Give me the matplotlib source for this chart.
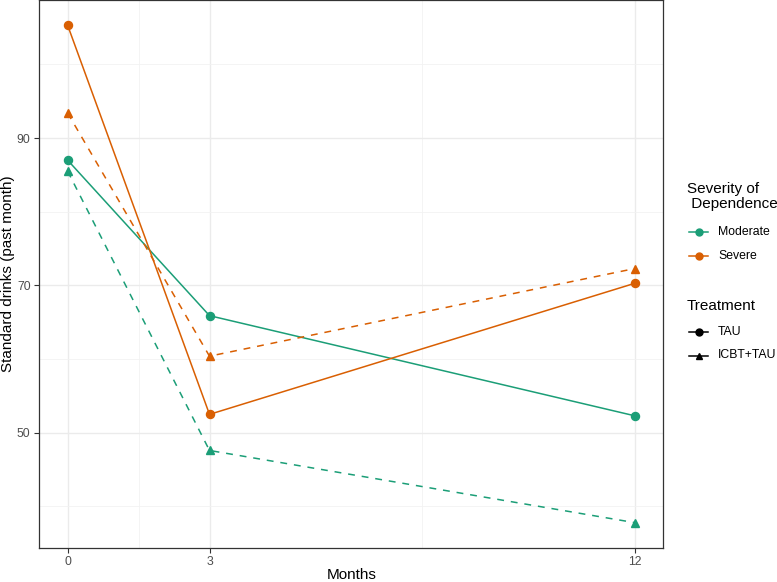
import matplotlib.pyplot as plt
from matplotlib.lines import Line2D

plt.rcParams['font.family'] = ['Liberation Sans', 'DejaVu Sans']

# data
months = [0, 3, 12]
moderate_tau = [87.0, 65.9, 52.3]
moderate_icbt = [85.5, 47.6, 37.8]
severe_tau = [105.3, 52.5, 70.3]
severe_icbt = [93.4, 60.4, 72.3]

green = '#1B9E77'
orange = '#D95F02'

fig = plt.figure(figsize=(7.77, 5.82), dpi=100)
ax = fig.add_axes([0.0506, 0.0589, 0.8031, 0.9405])

lw = 1.1
ms_c = 5.8
ms_t = 6.0
ax.plot(months, moderate_tau, color=green, lw=lw, marker='o', ms=ms_c, zorder=3)
ax.plot(months, severe_tau, color=orange, lw=lw, marker='o', ms=ms_c, zorder=3)
ax.plot(months, moderate_icbt, color=green, lw=lw, marker='^', ms=ms_t, dashes=(4.5, 4.5), zorder=3)
ax.plot(months, severe_icbt, color=orange, lw=lw, marker='^', ms=ms_t, dashes=(4.5, 4.5), zorder=3)

# axes formatting, ggplot theme_bw look
ax.set_xlim(-0.6, 12.6)
ax.set_ylim(34.4, 108.7)
ax.set_xticks([0, 3, 12])
ax.set_yticks([50, 70, 90])
ax.set_xticks([1.5, 7.5], minor=True)
ax.set_yticks([40, 60, 80, 100], minor=True)
ax.grid(which='major', color='#EBEBEB', lw=1.0)
ax.grid(which='minor', color='#F2F2F2', lw=0.6)
ax.set_axisbelow(True)
ax.tick_params(which='major', length=3.8, width=0.8, color='#333333',
               labelsize=8.8, labelcolor='#4D4D4D', pad=2.5)
ax.tick_params(which='minor', length=0)
for s in ax.spines.values():
    s.set_color('#333333')
    s.set_linewidth(0.9)
ax.set_xlabel('Months', fontsize=11, va='center')
ax.set_ylabel('Standard drinks (past month)', fontsize=11, va='center')
ax.xaxis.set_label_coords(0.5, -0.05)
ax.yaxis.set_label_coords(-0.05, 0.5)

# legends drawn by hand to mimic ggplot guides
def fx(px):
    return px / 777

def fy(py):
    return 1 - py / 582

fig.text(fx(687), fy(196.5), 'Severity of\n Dependence', fontsize=11, va='center',
         ha='left', linespacing=1.12)
for lab, col, py in [('Moderate', green, 231.7), ('Severe', orange, 255.7)]:
    fig.add_artist(Line2D([fx(689), fx(708)], [fy(py), fy(py)], color=col, lw=lw,
                          transform=fig.transFigure))
    fig.add_artist(Line2D([fx(698.5)], [fy(py)], color=col, marker='o', ms=5,
                          transform=fig.transFigure))
    fig.text(fx(718), fy(py), lab, fontsize=8.8, va='center', ha='left')

fig.text(fx(687), fy(306), 'Treatment', fontsize=11, va='center', ha='left')
for lab, mk, py in [('TAU', 'o', 332), ('ICBT+TAU', '^', 355.5)]:
    fig.add_artist(Line2D([fx(689), fx(708)], [fy(py), fy(py)], color='black', lw=lw,
                          transform=fig.transFigure))
    fig.add_artist(Line2D([fx(698.5)], [fy(py)], color='black', marker=mk, ms=5,
                          transform=fig.transFigure))
    fig.text(fx(718), fy(py), lab, fontsize=8.8, va='center', ha='left')

fig.savefig('out.png', dpi=100)
